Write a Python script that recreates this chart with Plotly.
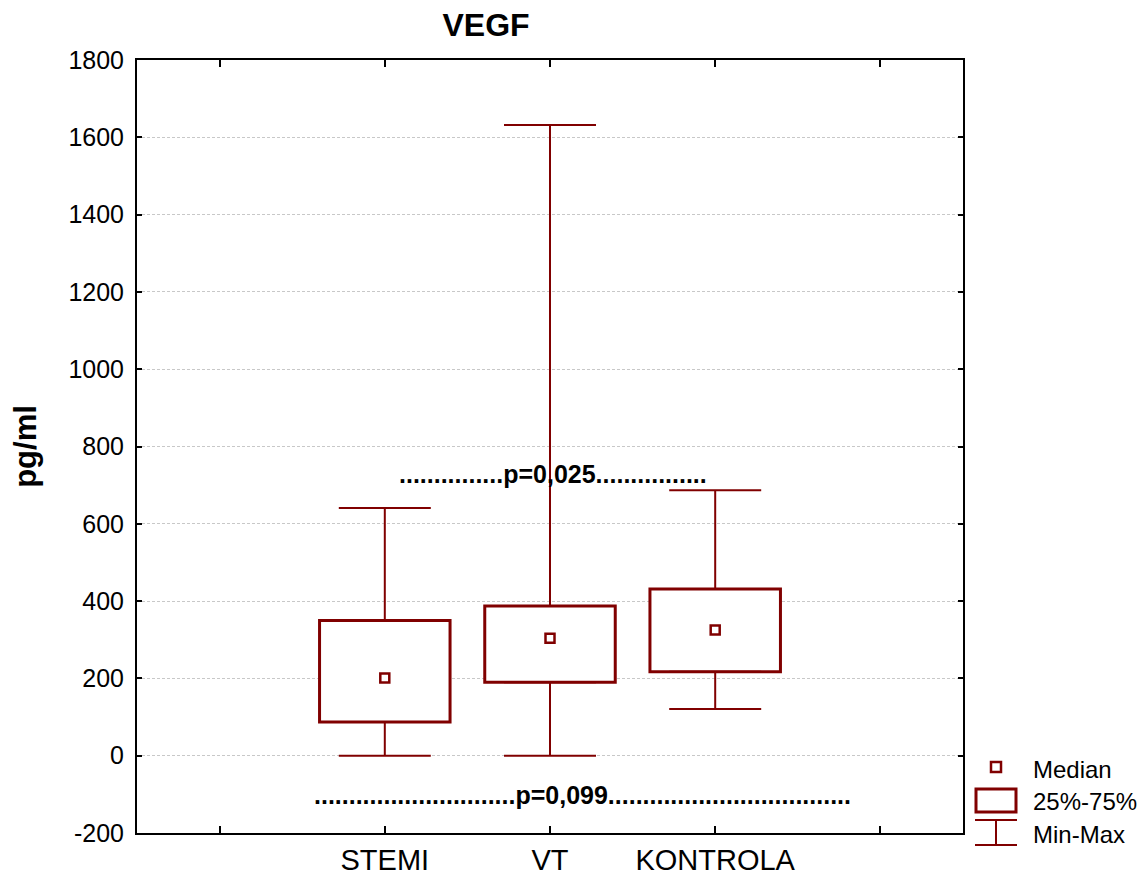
import plotly.graph_objects as go

# ---- data ----
categories = ["STEMI", "VT", "KONTROLA"]
minimum = [0, 0, 121]
q1 = [87, 190, 217]
median = [201, 304, 325]
q3 = [350, 387, 431]
maximum = [641, 1632, 687]

yticks = [-200, 0, 200, 400, 600, 800, 1000, 1200, 1400, 1600, 1800]
ytick_labels = ["-200", "0", "200", "400", "600", "800", "1000", "1200", "1400", "1600", "1800"]

p_labels = ["." * 15 + "p=0,025" + "." * 16, "." * 29 + "p=0,099" + "." * 35]
p_x = [1.021, 1.195]
p_y = [730, -102]

legend_labels = ["Median", "25%-75%", "Min-Max"]

# ---- style ----
RED = "#800000"
FONT = "Liberation Sans, Arial, sans-serif"
xpos = list(range(len(categories)))
W, H = 1137, 871   # page adds an 8px body margin
L, T = 129, 52
PW, PH = 826, 773

fig = go.Figure()

# boxes (25%-75%)
fig.add_trace(go.Bar(
    x=xpos, base=q1, y=[b - a for a, b in zip(q1, q3)],
    width=0.79, marker=dict(color="white", line=dict(color=RED, width=3)),
    showlegend=False, hoverinfo="skip"))

# upper whiskers
fig.add_trace(go.Scatter(
    x=xpos, y=q3, mode="markers",
    marker=dict(size=1, color="rgba(0,0,0,0)"),
    error_y=dict(type="data", symmetric=False,
                 array=[b - a for a, b in zip(q3, maximum)],
                 arrayminus=[0] * len(q3),
                 color=RED, thickness=2, width=46),
    showlegend=False, hoverinfo="skip"))

# lower whiskers
fig.add_trace(go.Scatter(
    x=xpos, y=q1, mode="markers",
    marker=dict(size=1, color="rgba(0,0,0,0)"),
    error_y=dict(type="data", symmetric=False,
                 array=[0] * len(q1),
                 arrayminus=[a - b for a, b in zip(q1, minimum)],
                 color=RED, thickness=2, width=46),
    showlegend=False, hoverinfo="skip"))

# medians
fig.add_trace(go.Scatter(
    x=xpos, y=median, mode="markers",
    marker=dict(symbol="square-open", size=9, color=RED, line=dict(width=2.5, color=RED)),
    showlegend=False, hoverinfo="skip"))

# p-value annotations
for txt, xx, yy in zip(p_labels, p_x, p_y):
    fig.add_annotation(x=xx, y=yy, xref="x", yref="y", text="<b>" + txt + "</b>",
                       showarrow=False, xanchor="center", yanchor="middle",
                       font=dict(family=FONT, size=25, color="black"))

# manual legend (paper coordinates; arguments are page pixels)
def px(xp):
    return (xp - 8 - L) / float(PW)

def py(yp):
    return (T + 8 + PH - yp) / float(PH)

shapes = [
    dict(type="rect", xref="paper", yref="paper", x0=px(991), x1=px(1001), y0=py(772), y1=py(762),
         line=dict(color=RED, width=2.5), fillcolor="white"),
    dict(type="rect", xref="paper", yref="paper", x0=px(976), x1=px(1016), y0=py(812), y1=py(789),
         line=dict(color=RED, width=3), fillcolor="white"),
    dict(type="line", xref="paper", yref="paper", x0=px(975), x1=px(1017), y0=py(820), y1=py(820),
         line=dict(color=RED, width=2)),
    dict(type="line", xref="paper", yref="paper", x0=px(975), x1=px(1017), y0=py(845), y1=py(845),
         line=dict(color=RED, width=2)),
    dict(type="line", xref="paper", yref="paper", x0=px(996), x1=px(996), y0=py(820), y1=py(845),
         line=dict(color=RED, width=2)),
]
for lab, yp in zip(legend_labels, [769, 801, 834]):
    fig.add_annotation(x=px(1031), y=py(yp), xref="paper", yref="paper", text=lab,
                       showarrow=False, xanchor="left", yanchor="middle",
                       font=dict(family=FONT, size=24, color="black"))

fig.update_layout(
    width=W, height=H,
    margin=dict(l=L, r=W - L - PW, t=T, b=H - T - PH, autoexpand=False),
    paper_bgcolor="white", plot_bgcolor="white",
    showlegend=False,
    shapes=shapes,
    title=dict(text="<b>VEGF</b>", x=(486 - 8) / W, xanchor="center", xref="container",
               y=1 - (25 - 8) / H, yanchor="middle", yref="container",
               font=dict(family=FONT, size=32, color="black"), automargin=False),
    font=dict(family=FONT, color="black"),
)

fig.update_xaxes(
    range=[-1.5, 3.5], tickvals=[-1, 0, 1, 2, 3], ticktext=[""] + categories + [""],
    showline=True, linecolor="black", linewidth=2, mirror="ticks",
    ticks="inside", ticklen=7, tickwidth=2, tickcolor="black",
    showgrid=False, zeroline=False, automargin=False,
    tickfont=dict(family=FONT, size=29, color="black"), ticklabelstandoff=0,
)
fig.update_yaxes(
    range=[-200, 1800], tickvals=yticks, ticktext=ytick_labels,
    showline=True, linecolor="black", linewidth=2, mirror="ticks",
    ticks="inside", ticklen=5, tickwidth=2, tickcolor="black",
    showgrid=True, gridcolor="#c8c8c8", gridwidth=1, griddash="3px,2px",
    zeroline=False, automargin=False,
    tickfont=dict(family=FONT, size=25, color="black"), ticklabelstandoff=6,
    title=dict(text="<b>pg/ml</b>", font=dict(family=FONT, size=31, color="black"), standoff=24),
)

fig.write_html("out.html")
